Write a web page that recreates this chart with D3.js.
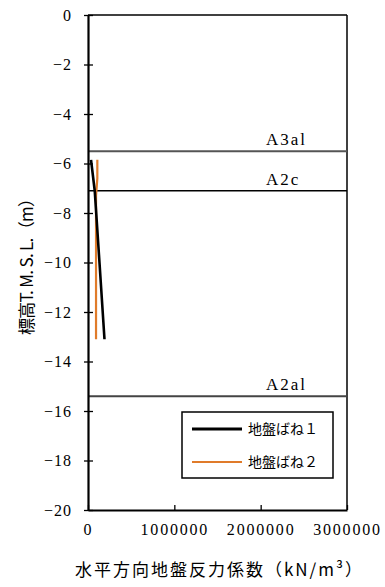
<!DOCTYPE html>
<html><head><meta charset="utf-8">
<script src="https://cdn.jsdelivr.net/npm/d3@7"></script>
<style>
html,body{margin:0;padding:0;background:#fff;}
svg text{font-family:"Liberation Serif","DejaVu Serif","Noto Sans CJK JP",serif;fill:#000;}
</style></head>
<body>
<svg id="c" width="385" height="587"></svg>
<script>
// ---- data ----
const series1Depth = [-5.85, -7.1, -10.0, -13.1];
const series1Value = [35000, 78000, 133000, 191000];
const series2Depth = [-5.85, -6.6, -7.3, -13.1];
const series2Value = [108000, 108000, 93000, 93000];
const seriesNames = ["地盤ばね１", "地盤ばね２"];
const layerNames = ["A3al", "A2c", "A2al"];
const layerDepths = [-5.5, -7.1, -15.4];
const xTicks = [0, 1000000, 2000000, 3000000];
const yTicks = [0, -2, -4, -6, -8, -10, -12, -14, -16, -18, -20];
const xTitle = "水平方向地盤反力係数（kN/m³）";
const yTitle = "標高T. M. S. L.（m）";

// ---- layout ----
const L = 88, R = 347, T = 15, B = 510;
const svg = d3.select("#c");
const x = d3.scaleLinear().domain([0, 3000000]).range([L, R]);
const y = d3.scaleLinear().domain([0, -20]).range([T, B]);

// frame (top & right)
svg.append("line").attr("x1", L).attr("x2", R).attr("y1", T).attr("y2", T)
  .attr("stroke", "#000").attr("stroke-width", 1.5);
svg.append("line").attr("x1", R).attr("x2", R).attr("y1", T).attr("y2", B)
  .attr("stroke", "#000").attr("stroke-width", 1.5);

// layer lines
const layerColors = ["#555", "#000", "#444"];
const layerWidths = [2, 1.3, 2];
layerDepths.forEach((d, i) => {
  svg.append("line").attr("x1", L).attr("x2", R).attr("y1", y(d)).attr("y2", y(d))
    .attr("stroke", layerColors[i]).attr("stroke-width", layerWidths[i]);
  svg.append("text").attr("x", 266).attr("y", y(d) - 6)
    .attr("font-size", 17).attr("letter-spacing", 2).text(layerNames[i]);
});

// y axis
const yAxis = svg.append("g").attr("transform", `translate(${L},0)`)
  .call(d3.axisLeft(y).tickValues(yTicks).tickSize(4).tickSizeOuter(0)
    .tickFormat(d => d === 0 ? "0" : "\u2212" + Math.abs(d)));
yAxis.select(".domain").attr("stroke-width", 2.2);
yAxis.selectAll(".tick line").attr("x1", -4).attr("x2", 5).attr("stroke-width", 1.3);
yAxis.selectAll(".tick text").attr("x", -16).attr("font-size", 16).attr("letter-spacing", 1)
  .attr("fill", "#000");

// x axis
const xAxis = svg.append("g").attr("transform", `translate(0,${B})`)
  .call(d3.axisBottom(x).tickValues(xTicks).tickSize(-5).tickSizeOuter(0)
    .tickFormat(d3.format("d")));
xAxis.select(".domain").attr("stroke-width", 2.2);
xAxis.selectAll(".tick line").attr("stroke-width", 1.3);
xAxis.selectAll(".tick text").attr("y", 14).attr("font-size", 16).attr("letter-spacing", 1.8)
  .attr("fill", "#000");

// series
const line = d3.line().x(d => x(d[1])).y(d => y(d[0]));
svg.append("path").datum(series2Depth.map((d, i) => [d, series2Value[i]]))
  .attr("d", line).attr("fill", "none").attr("stroke", "#E07B2A").attr("stroke-width", 2.2);
svg.append("path").datum(series1Depth.map((d, i) => [d, series1Value[i]]))
  .attr("d", line).attr("fill", "none").attr("stroke", "#000").attr("stroke-width", 2.6);

// legend
const lg = svg.append("g");
lg.append("rect").attr("x", 182).attr("y", 412).attr("width", 151).attr("height", 66)
  .attr("fill", "#fff").attr("stroke", "#000").attr("stroke-width", 1.5);
const legColors = ["#000", "#E07B2A"];
const legWidths = [3, 2];
seriesNames.forEach((n, i) => {
  const yy = 429 + i * 33;
  lg.append("line").attr("x1", 192).attr("x2", 242).attr("y1", yy).attr("y2", yy)
    .attr("stroke", legColors[i]).attr("stroke-width", legWidths[i]);
  lg.append("text").attr("x", 248).attr("y", yy + 5).attr("font-size", 14)
    .style("font-family", '"Noto Sans CJK JP",sans-serif').text(n);
});

// titles
svg.append("text").attr("x", 75).attr("y", 576).attr("font-size", 17)
  .attr("textLength", 287).attr("lengthAdjust", "spacing")
  .style("font-family", '"Noto Sans CJK JP",sans-serif').text(xTitle);
svg.append("text").attr("transform", "translate(33,335) rotate(-90)")
  .attr("font-size", 17).attr("textLength", 145).attr("lengthAdjust", "spacing")
  .style("font-family", '"Noto Sans CJK JP",sans-serif').text(yTitle);
</script>
</body></html>
